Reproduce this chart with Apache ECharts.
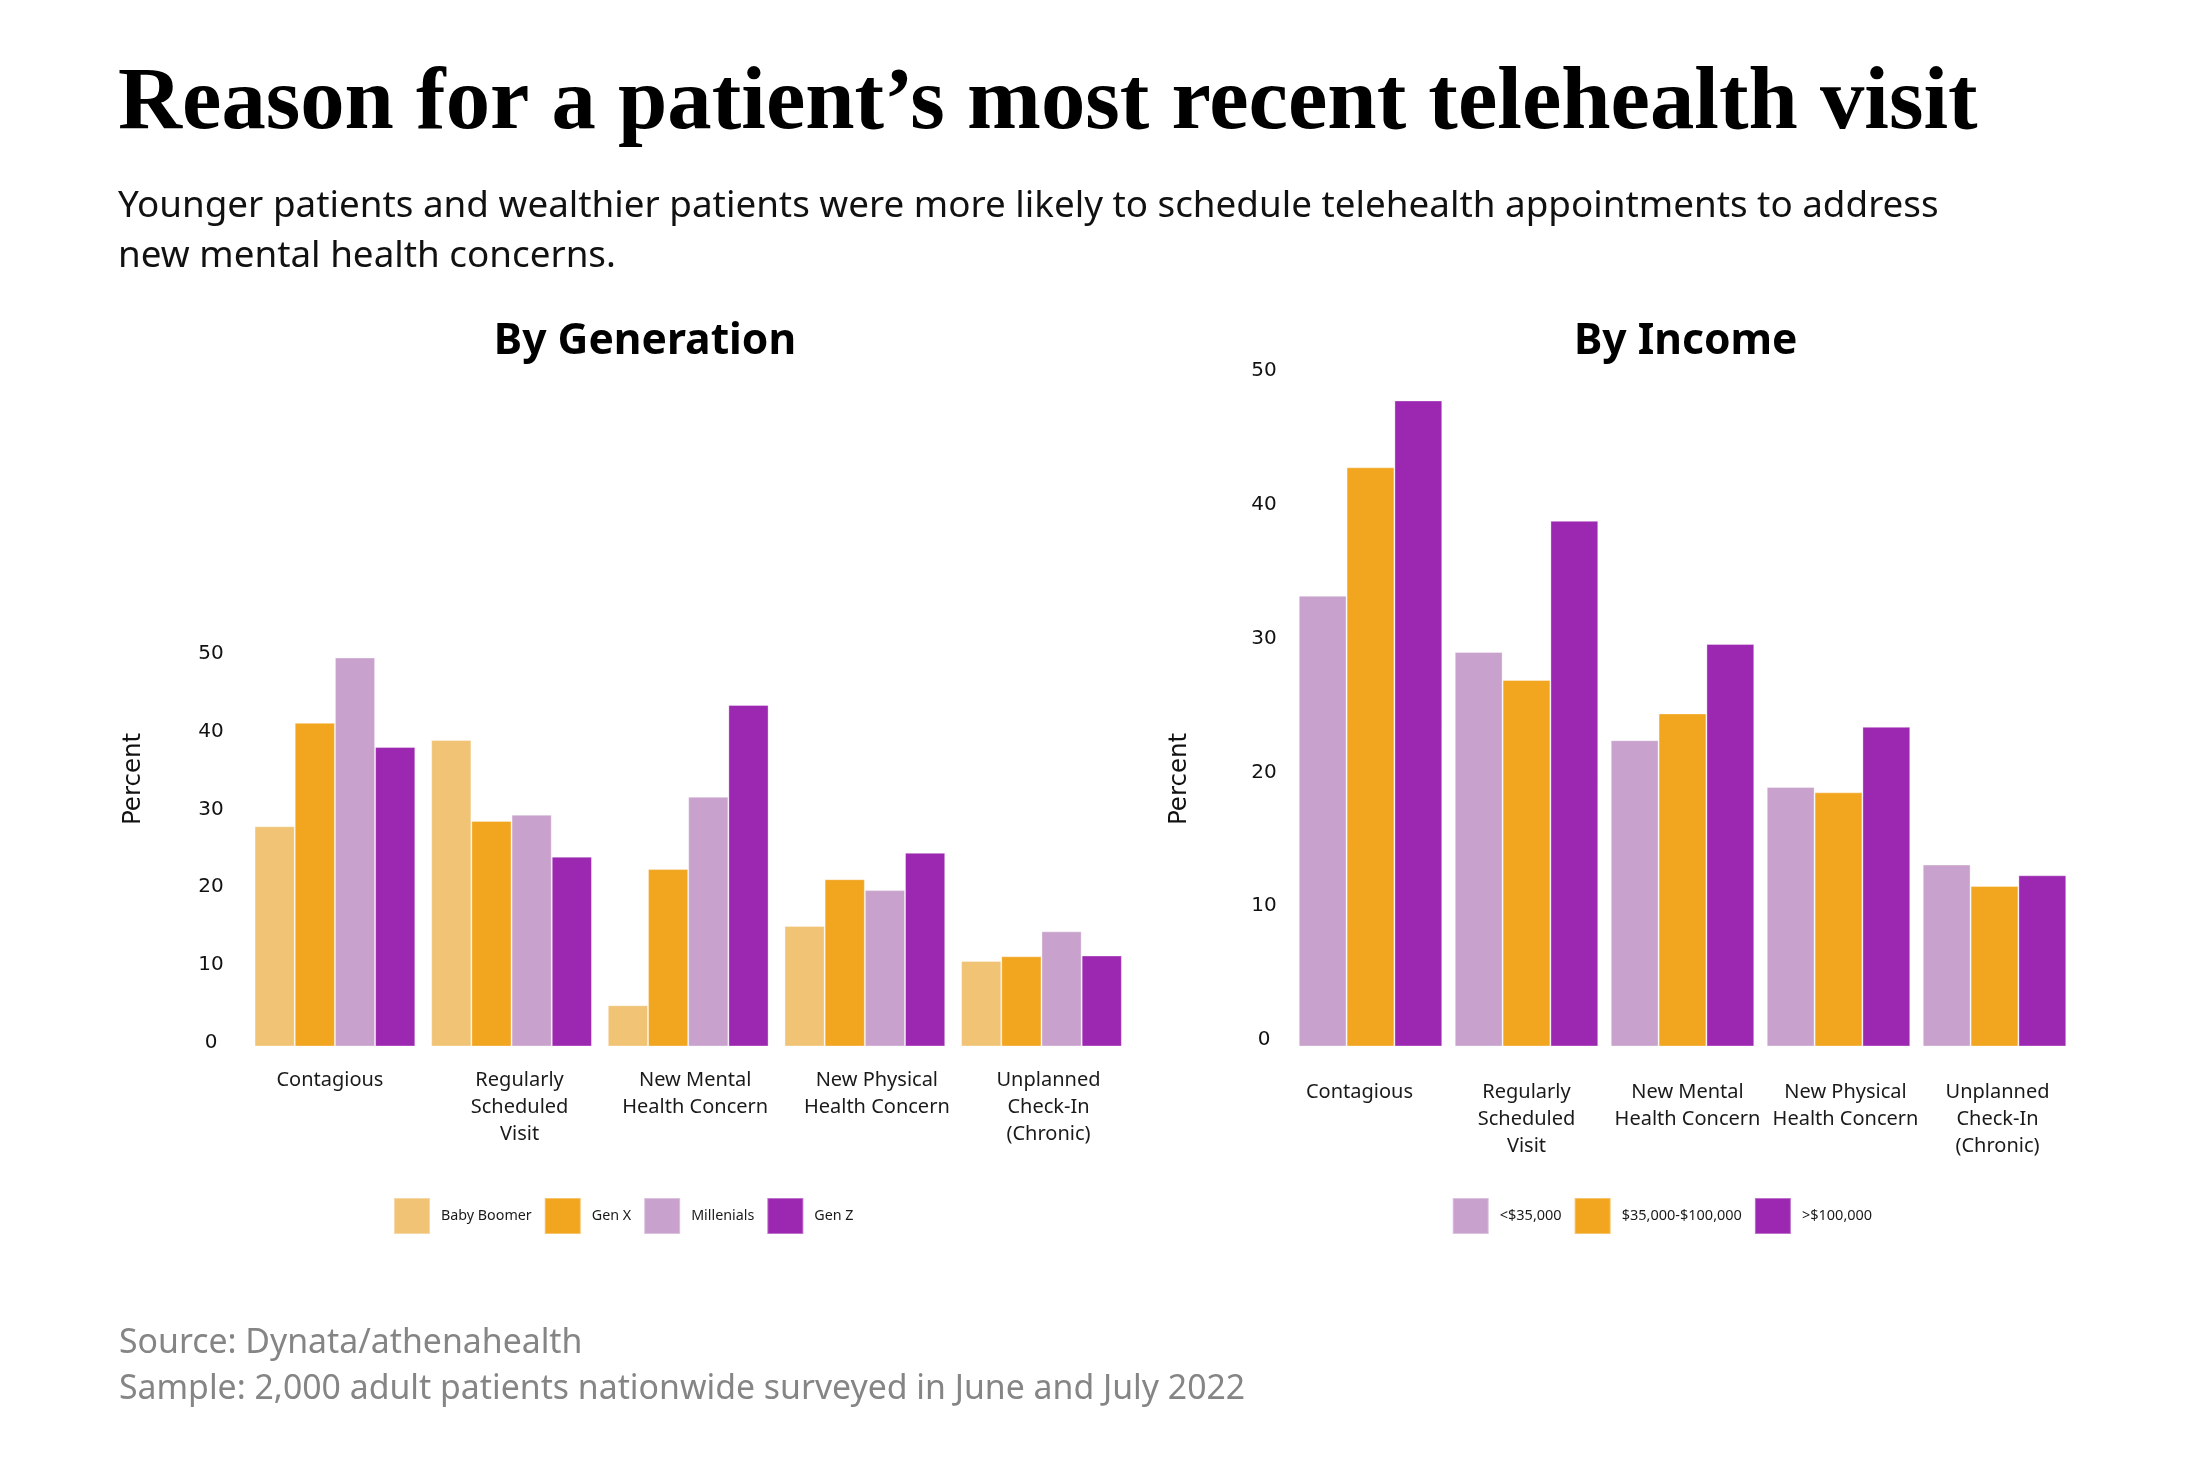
<!DOCTYPE html>
<html>
<head>
<meta charset="utf-8">
<script src="https://cdn.jsdelivr.net/npm/echarts@6/dist/echarts.min.js"></script>
<style>
html,body{margin:0;padding:0;background:#fff;}
#chart{width:2209px;height:1463px;}
</style>
</head>
<body>
<div id="chart"></div>
<script>
// ---------- data ----------
const categories = ['Contagious', 'Regularly\nScheduled\nVisit', 'New Mental\nHealth Concern', 'New Physical\nHealth Concern', 'Unplanned\nCheck-In\n(Chronic)'];

const generationNames = ['Baby Boomer', 'Gen X', 'Millenials', 'Gen Z'];
const babyBoomer = [28.3, 39.4, 5.3, 15.5, 11.0];
const genX       = [41.6, 29.0, 22.8, 21.5, 11.6];
const millenials = [50.0, 29.8, 32.1, 20.1, 14.8];
const genZ       = [38.5, 24.4, 43.9, 24.9, 11.7];

const incomeNames = ['<$35,000', '$35,000-$100,000', '>$100,000'];
const incomeLow  = [33.7, 29.5, 22.9, 19.4, 13.6];
const incomeMid  = [43.3, 27.4, 24.9, 19.0, 12.0];
const incomeHigh = [48.3, 39.3, 30.1, 23.9, 12.8];

const yMin = 0, yMax = 50, yInterval = 10;

// ---------- styles ----------
const C_BOOMER = '#F0C375', C_GENX = '#F2A51F', C_MILL = '#C8A2CC', C_GENZ = '#9C27B0';
const SANS = '"Noto Sans", sans-serif';
const DEJA = '"DejaVu Sans", sans-serif';
const SERIF = '"Liberation Serif", serif';

// horizontal nudges of the category labels (px), per chart
const labelShiftGen = [-5, 8, 7, 12, 7];
const labelShiftInc = [-11, 0, 5, 7, 3];

const chart = echarts.init(document.getElementById('chart'), null, {renderer: 'canvas'});

function barSeries(name, data, color, idx) {
  return {
    name: name, type: 'bar', data: data,
    xAxisIndex: idx, yAxisIndex: idx,
    barGap: '0%', barCategoryGap: idx === 0 ? '9%' : '8%',
    itemStyle: {color: color, borderColor: 'rgba(255,255,255,0.35)', borderWidth: 1},
    emphasis: {disabled: true},
    animation: false
  };
}

function xAxis(idx, margin, shifts) {
  const rich = {};
  shifts.forEach(function (s, i) {
    rich['o' + i] = {
      fontFamily: SANS, fontSize: 20, lineHeight: 27, color: '#1a1a1a',
      padding: s >= 0 ? [0, 0, 0, 2 * s] : [0, -2 * s, 0, 0]
    };
  });
  return {
    type: 'category', gridIndex: idx, data: categories,
    axisLine: {show: false}, axisTick: {show: false}, splitLine: {show: false},
    axisLabel: {
      interval: 0, margin: margin, color: '#1a1a1a', fontFamily: SANS, fontSize: 20, lineHeight: 27,
      formatter: function (value, index) {
        return value.split('\n').map(function (l) { return '{o' + index + '|' + l + '}'; }).join('\n');
      },
      rich: rich
    }
  };
}
function yAxis(idx, margin, lift) {
  return {
    type: 'value', gridIndex: idx, min: yMin, max: yMax, interval: yInterval,
    axisLine: {show: false}, axisTick: {show: false}, splitLine: {show: false},
    axisLabel: {
      margin: margin, align: 'center', verticalAlign: 'bottom', lineHeight: 2 * lift,
      color: '#111', fontFamily: DEJA, fontSize: 20
    }
  };
}

function txt(text, x, y, font, fill, align, extra) {
  return Object.assign({
    type: 'text', x: x, y: y, silent: true,
    style: {text: text, font: font, fill: fill, textAlign: align || 'left', textVerticalAlign: 'middle'}
  }, extra || {});
}

const option = {
  backgroundColor: '#fff',
  animation: false,
  grid: [
    {left: 246.6, right: 2209 - 1129.8, top: 657.5, bottom: 1463 - 1046.5, containLabel: false},
    {left: 1292.5, right: 2209 - 2072.5, top: 377.7, bottom: 1463 - 1046.5, containLabel: false}
  ],
  xAxis: [xAxis(0, 20.5, labelShiftGen), xAxis(1, 32, labelShiftInc)],
  yAxis: [yAxis(0, 35.6, 3.8), yAxis(1, 28.5, 6.5)],
  legend: [
    {
      data: generationNames, left: 393, top: 1197, orient: 'horizontal', padding: 0,
      itemWidth: 36, itemHeight: 36, itemGap: 12, icon: 'rect',
      textStyle: {fontFamily: SANS, fontSize: 14.3, color: '#1a1a1a', padding: [0, 0, 0, 6]},
      selectedMode: false
    },
    {
      data: incomeNames, left: 1451.7, top: 1197, orient: 'horizontal', padding: 0,
      itemWidth: 36, itemHeight: 36, itemGap: 12, icon: 'rect',
      textStyle: {fontFamily: SANS, fontSize: 14.5, color: '#1a1a1a', padding: [0, 0, 0, 6]},
      selectedMode: false
    }
  ],
  series: [
    barSeries(generationNames[0], babyBoomer, C_BOOMER, 0),
    barSeries(generationNames[1], genX, C_GENX, 0),
    barSeries(generationNames[2], millenials, C_MILL, 0),
    barSeries(generationNames[3], genZ, C_GENZ, 0),
    barSeries(incomeNames[0], incomeLow, C_MILL, 1),
    barSeries(incomeNames[1], incomeMid, C_GENX, 1),
    barSeries(incomeNames[2], incomeHigh, C_GENZ, 1)
  ],
  graphic: [
    txt('Reason for a patient\u2019s most recent telehealth visit', 118, 105, 'bold 88.7px ' + SERIF, '#000'),
    txt('Younger patients and wealthier patients were more likely to schedule telehealth appointments to address', 118, 206.2, '36.8px ' + SANS, '#111'),
    txt('new mental health concerns.', 118, 256.5, '36.8px ' + SANS, '#111'),
    txt('By Generation', 645, 341.6, 'bold 42.6px ' + SANS, '#000', 'center'),
    txt('By Income', 1685.7, 341.6, 'bold 42.6px ' + SANS, '#000', 'center'),
    txt('Percent', 134, 779, '24.5px ' + DEJA, '#111', 'center', {rotation: Math.PI / 2}),
    txt('Percent', 1180, 779, '24.5px ' + DEJA, '#111', 'center', {rotation: Math.PI / 2}),
    txt('Source: Dynata/athenahealth', 119, 1343.7, '33.8px ' + SANS, '#858585'),
    txt('Sample: 2,000 adult patients nationwide surveyed in June and July 2022', 119, 1389.7, '33.8px ' + SANS, '#858585')
  ]
};
chart.setOption(option);
</script>
</body>
</html>
